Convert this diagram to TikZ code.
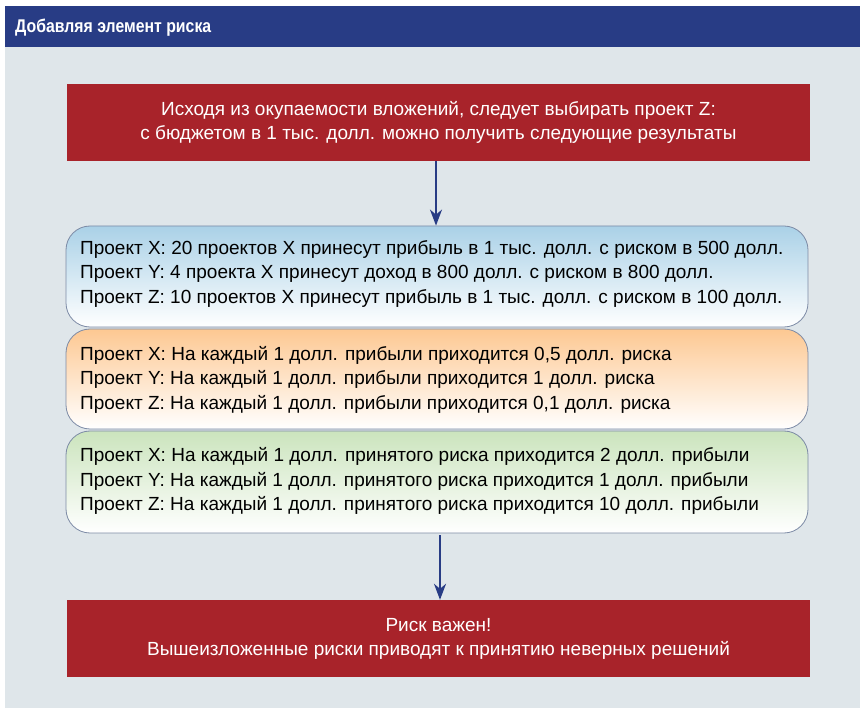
\documentclass[tikz,border=0pt]{standalone}
\usepackage{fontspec}
\setmainfont{Liberation Sans}
\newfontfamily\headfont[FakeStretch=0.86]{Liberation Sans}
\usetikzlibrary{arrows.meta}
\definecolor{bggray}{HTML}{DFE6EA}
\definecolor{headblue}{HTML}{283C85}
\definecolor{boxred}{HTML}{A8232A}
\definecolor{edgegray}{HTML}{7C8AA5}
\definecolor{topblue}{HTML}{AAD1E7}
\definecolor{toporange}{HTML}{FDC892}
\definecolor{topgreen}{HTML}{CBE4BD}
\definecolor{arrowblue}{HTML}{283C85}
\tikzset{
  redbox/.style={rectangle, fill=boxred, text=white, minimum width=743pt, minimum height=77pt, inner sep=0pt, align=center, font=\fontsize{19}{24}\selectfont},
  roundbox/.style={rectangle, rounded corners=24pt, draw=edgegray, line width=0.8pt, minimum width=742pt, inner sep=0pt, bottom color=white},
  boxtext/.style={anchor=west, align=left, inner sep=0pt, text=black, font=\fontsize{19}{24.5}\selectfont},
  flowarrow/.style={draw=arrowblue, line width=2pt, -{Stealth[length=16pt, width=12pt, inset=5pt]}}
}
\begin{document}
\begin{tikzpicture}[x=1pt, y=-1pt]
\useasboundingbox (0,0) rectangle (860,708);
\fill[white] (0,0) rectangle (860,708);
\fill[bggray] (5,47) rectangle (860,708);
\fill[headblue] (5,6) rectangle (860,47);
\node[anchor=west, text=white, inner sep=0pt, font=\headfont\bfseries\fontsize{18.4}{20}\selectfont] (title) at (15,28) {Добавляя элемент риска};

\node[redbox] (top) at (438.5,122.5) {Исходя из окупаемости вложений, следует выбирать проект Z:\\с бюджетом в 1 тыс. долл. можно получить следующие результаты};

\node[roundbox, top color=topblue, minimum height=101pt] (blue) at (437,276.5) {};
\node[roundbox, top color=toporange, minimum height=100pt] (orange) at (437,379) {};
\node[roundbox, top color=topgreen, minimum height=102pt] (green) at (437,482) {};

\node[boxtext] (bluetext) at (80,274) {Проект X: 20 проектов X принесут прибыль в 1 тыс. долл. с риском в 500 долл.\\Проект Y: 4 проекта X принесут доход в 800 долл. с риском в 800 долл.\\Проект Z: 10 проектов X принесут прибыль в 1 тыс. долл. с риском в 100 долл.};
\node[boxtext] (orangetext) at (80,379.5) {Проект X: На каждый 1 долл. прибыли приходится 0,5 долл. риска\\Проект Y: На каждый 1 долл. прибыли приходится 1 долл. риска\\Проект Z: На каждый 1 долл. прибыли приходится 0,1 долл. риска};
\node[boxtext] (greentext) at (80,481) {Проект X: На каждый 1 долл. принятого риска приходится 2 долл. прибыли\\Проект Y: На каждый 1 долл. принятого риска приходится 1 долл. прибыли\\Проект Z: На каждый 1 долл. принятого риска приходится 10 долл. прибыли};

\node[redbox] (bottom) at (438.5,638.5) {Риск важен!\\Вышеизложенные риски приводят к принятию неверных решений};

\draw[flowarrow] (top.south -| 436,0) -- (blue.north -| 436,0);
\draw[flowarrow] (green.south -| 440,0) ++(0,2) -- (bottom.north -| 440,0);
\end{tikzpicture}
\end{document}
